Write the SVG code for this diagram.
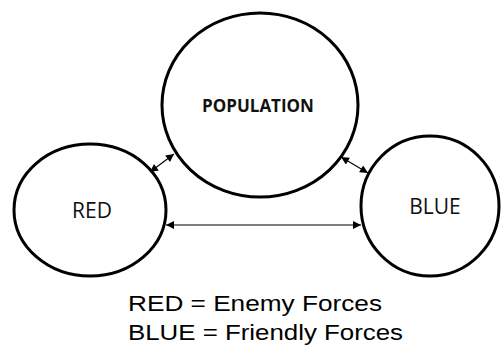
<svg xmlns="http://www.w3.org/2000/svg" width="502" height="349" viewBox="0 0 502 349">
<defs>
<style>
.node{fill:#fff;stroke:#000;stroke-width:3}
.lbl{font-family:"Open Sans","Noto Sans",sans-serif;font-size:21px;fill:#111;text-anchor:middle}
.bold{font-weight:bold;font-size:17px}
.conn{stroke:#000;stroke-width:1.2;fill:none;marker-start:url(#ah);marker-end:url(#ah)}
.legend{font-family:"Liberation Sans",Arial,sans-serif;font-size:22px;fill:#000}
</style>
<marker id="ah" viewBox="0 0 10 10" refX="10" refY="5" markerWidth="9" markerHeight="8" markerUnits="userSpaceOnUse" orient="auto-start-reverse">
<path d="M0,0 L10,5 L0,10 z" fill="#000"/>
</marker>
</defs>
<rect width="502" height="349" fill="#fff"/>
<g id="population">
<ellipse class="node" cx="260" cy="105" rx="98" ry="92"/>
<text class="lbl bold" x="258" y="112">POPULATION</text>
</g>
<g id="red">
<ellipse class="node" cx="90" cy="210" rx="76" ry="66"/>
<text class="lbl" x="92" y="218">RED</text>
</g>
<g id="blue">
<ellipse class="node" cx="430" cy="206" rx="69" ry="70"/>
<text class="lbl" x="435" y="214">BLUE</text>
</g>
<g id="connectors">
<line class="conn" x1="150" y1="172" x2="174" y2="154"/>
<line class="conn" x1="341" y1="157" x2="368" y2="173"/>
<line class="conn" x1="166" y1="225" x2="361" y2="225"/>
</g>
<g id="legend">
<text class="legend" x="128" y="311" textLength="254" lengthAdjust="spacingAndGlyphs">RED = Enemy Forces</text>
<text class="legend" x="128" y="340" textLength="275" lengthAdjust="spacingAndGlyphs">BLUE = Friendly Forces</text>
</g>
</svg>
